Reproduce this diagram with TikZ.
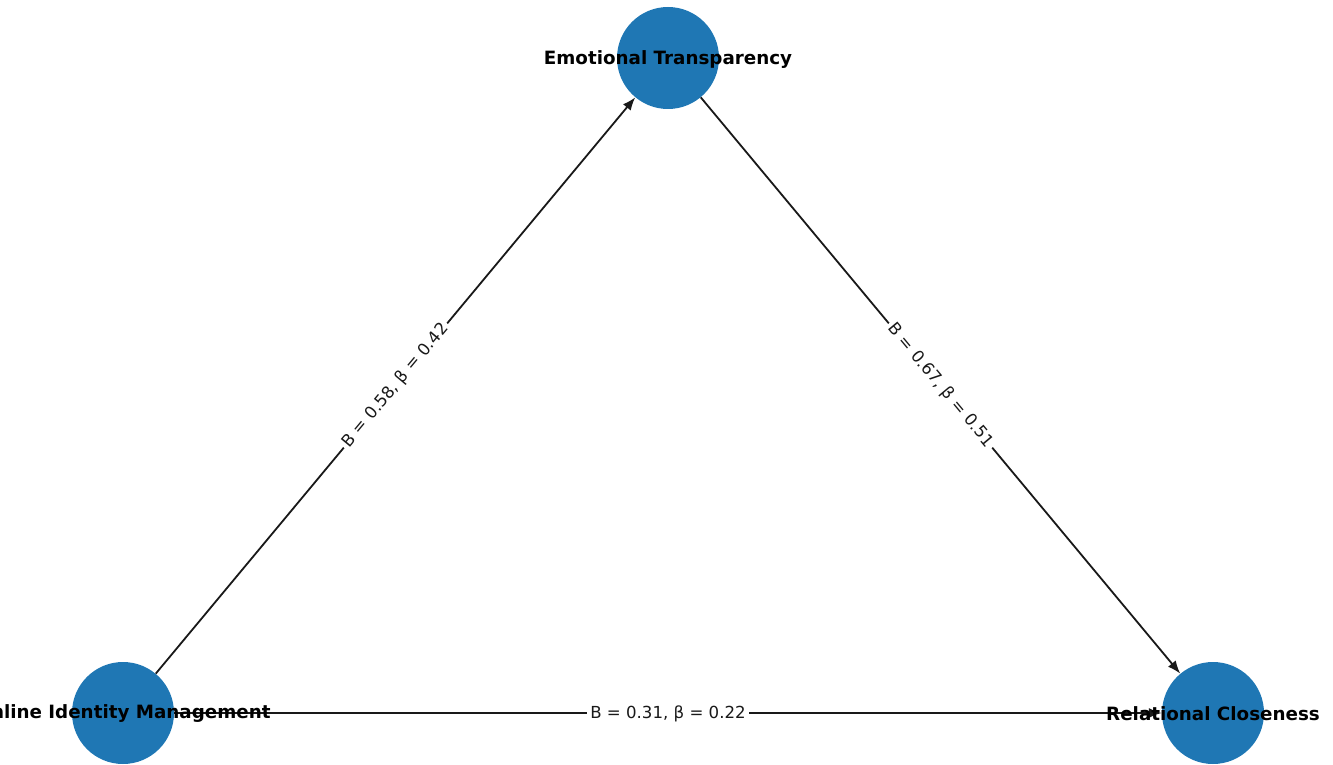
\documentclass[tikz,border=0pt]{standalone}
\usepackage{fontspec}
\setmainfont{DejaVu Sans}
\usetikzlibrary{arrows.meta}
\definecolor{nodeblue}{HTML}{1F77B4}
\begin{document}
\begin{tikzpicture}[x=1pt,y=-1pt,
  vert/.style={circle,fill=nodeblue,minimum size=102pt,inner sep=0pt},
  vtext/.style={font=\fontsize{18.3}{20}\selectfont\bfseries,text=black},
  edge/.style={draw=black!90,line width=1.8pt,-{Latex[length=13pt,width=10pt]}},
  elabel/.style={fill=white,inner sep=3pt,font=\fontsize{16.6}{18}\selectfont,text=black!90}]
\useasboundingbox (0,0) rectangle (1333,765);
\node[vert] (et) at (668,58) {};
\node[vert] (oim) at (123,713) {};
\node[vert] (rc) at (1213,713) {};
\draw[edge] (oim) -- (et);
\draw[edge] (et) -- (rc);
\draw[edge] (oim) -- (rc);
\node[elabel,rotate=50.2] (l1) at (395.5,385.5) {B = 0.58, β = 0.42};
\node[elabel,rotate=-50.2] (l2) at (940.5,385.5) {B = 0.67, β = 0.51};
\node[elabel] (l3) at (668,714) {B = 0.31, β = 0.22};
\node[vtext] (tet) at ([yshift=-2pt]et.center) {Emotional Transparency};
\node[vtext] (toim) at ([yshift=-1pt]oim.center) {Online Identity Management};
\node[vtext] (trc) at ([yshift=-1pt]rc.center) {Relational Closeness};
\end{tikzpicture}
\end{document}
